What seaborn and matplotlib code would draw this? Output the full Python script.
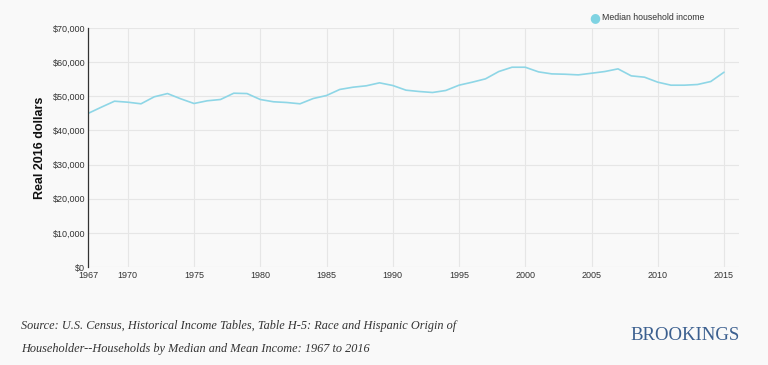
import matplotlib
matplotlib.use("Agg")
import matplotlib.pyplot as plt
import seaborn as sns
import pandas as pd

years = list(range(1967, 2016))
income = [44970, 46800, 48560, 48270, 47800, 49850, 50800, 49260, 47890, 48680,
          49060, 50900, 50800, 49060, 48390, 48180, 47800, 49350, 50230, 52000,
          52660, 53070, 53940, 53160, 51790, 51400, 51110, 51700, 53250, 54130,
          55110, 57250, 58510, 58510, 57150, 56560, 56460, 56270, 56750, 57250,
          58030, 55980, 55590, 54130, 53250, 53250, 53450, 54330, 57050]
series_name = "Median household income"
x_ticks = [1967, 1970, 1975, 1980, 1985, 1990, 1995, 2000, 2005, 2010, 2015]
y_ticks = [0, 10000, 20000, 30000, 40000, 50000, 60000, 70000]

df = pd.DataFrame({"year": years, "income": income})

sns.set_theme(style="white")
plt.rcParams['font.family'] = ['Liberation Sans', 'DejaVu Sans']

bg = "#f9f9f9"
fig = plt.figure(figsize=(7.68, 3.65), dpi=100, facecolor=bg)
ax = fig.add_axes([88/768, 1 - 267/365, (739-88)/768, (267-28)/365])
ax.set_facecolor(bg)

line_color = "#8ed6e6"
sns.lineplot(data=df, x="year", y="income", ax=ax, color=line_color, linewidth=1.2, legend=False)

ax.set_xlim(1967, 2016.13)
ax.set_ylim(0, 70000)
ax.set_xticks(x_ticks)
ax.set_xticklabels([str(t) for t in x_ticks], fontsize=6.5, color="#333333")
ax.set_yticks(y_ticks)
ax.set_yticklabels([f"${v:,}" for v in y_ticks], fontsize=6.5, color="#333333")
ax.tick_params(axis="both", length=0, pad=2)
ax.tick_params(axis="x", pad=3)

for t in x_ticks[1:]:
    ax.axvline(t, color="#e6e6e6", linewidth=0.8, zorder=0)
for v in y_ticks:
    ax.axhline(v, color="#e6e6e6", linewidth=0.8, zorder=0)

for s in ["top", "right", "bottom"]:
    ax.spines[s].set_visible(False)
ax.spines["left"].set_color("#333333")
ax.spines["left"].set_linewidth(0.9)

ax.set_xlabel("")
ax.set_ylabel("Real 2016 dollars", fontsize=9, fontweight="bold", color="#111111", labelpad=5)

# legend
fig.text(595/768, 1 - 17.5/365, "●", color="#7fd3e2", fontsize=9, ha="center", va="center",
         family=["DejaVu Sans"])
fig.text(602/768, 1 - 17.5/365, series_name, fontsize=6.3, color="#333333", ha="left", va="center")

# source
fig.text(21/768, 1 - 326/365, "Source: U.S. Census, Historical Income Tables, Table H-5: Race and Hispanic Origin of",
         fontsize=8.8, style="italic", family=["Liberation Serif"], color="#333333", ha="left", va="center")
fig.text(21/768, 1 - 349/365, "Householder--Households by Median and Mean Income: 1967 to 2016",
         fontsize=8.8, style="italic", family=["Liberation Serif"], color="#333333", ha="left", va="center")
fig.text(740/768, 1 - 336/365, "BROOKINGS", fontsize=13.5, family=["Liberation Serif"], color="#3b5f8f",
         ha="right", va="center")

fig.savefig("out.png", dpi=100, facecolor=bg)
